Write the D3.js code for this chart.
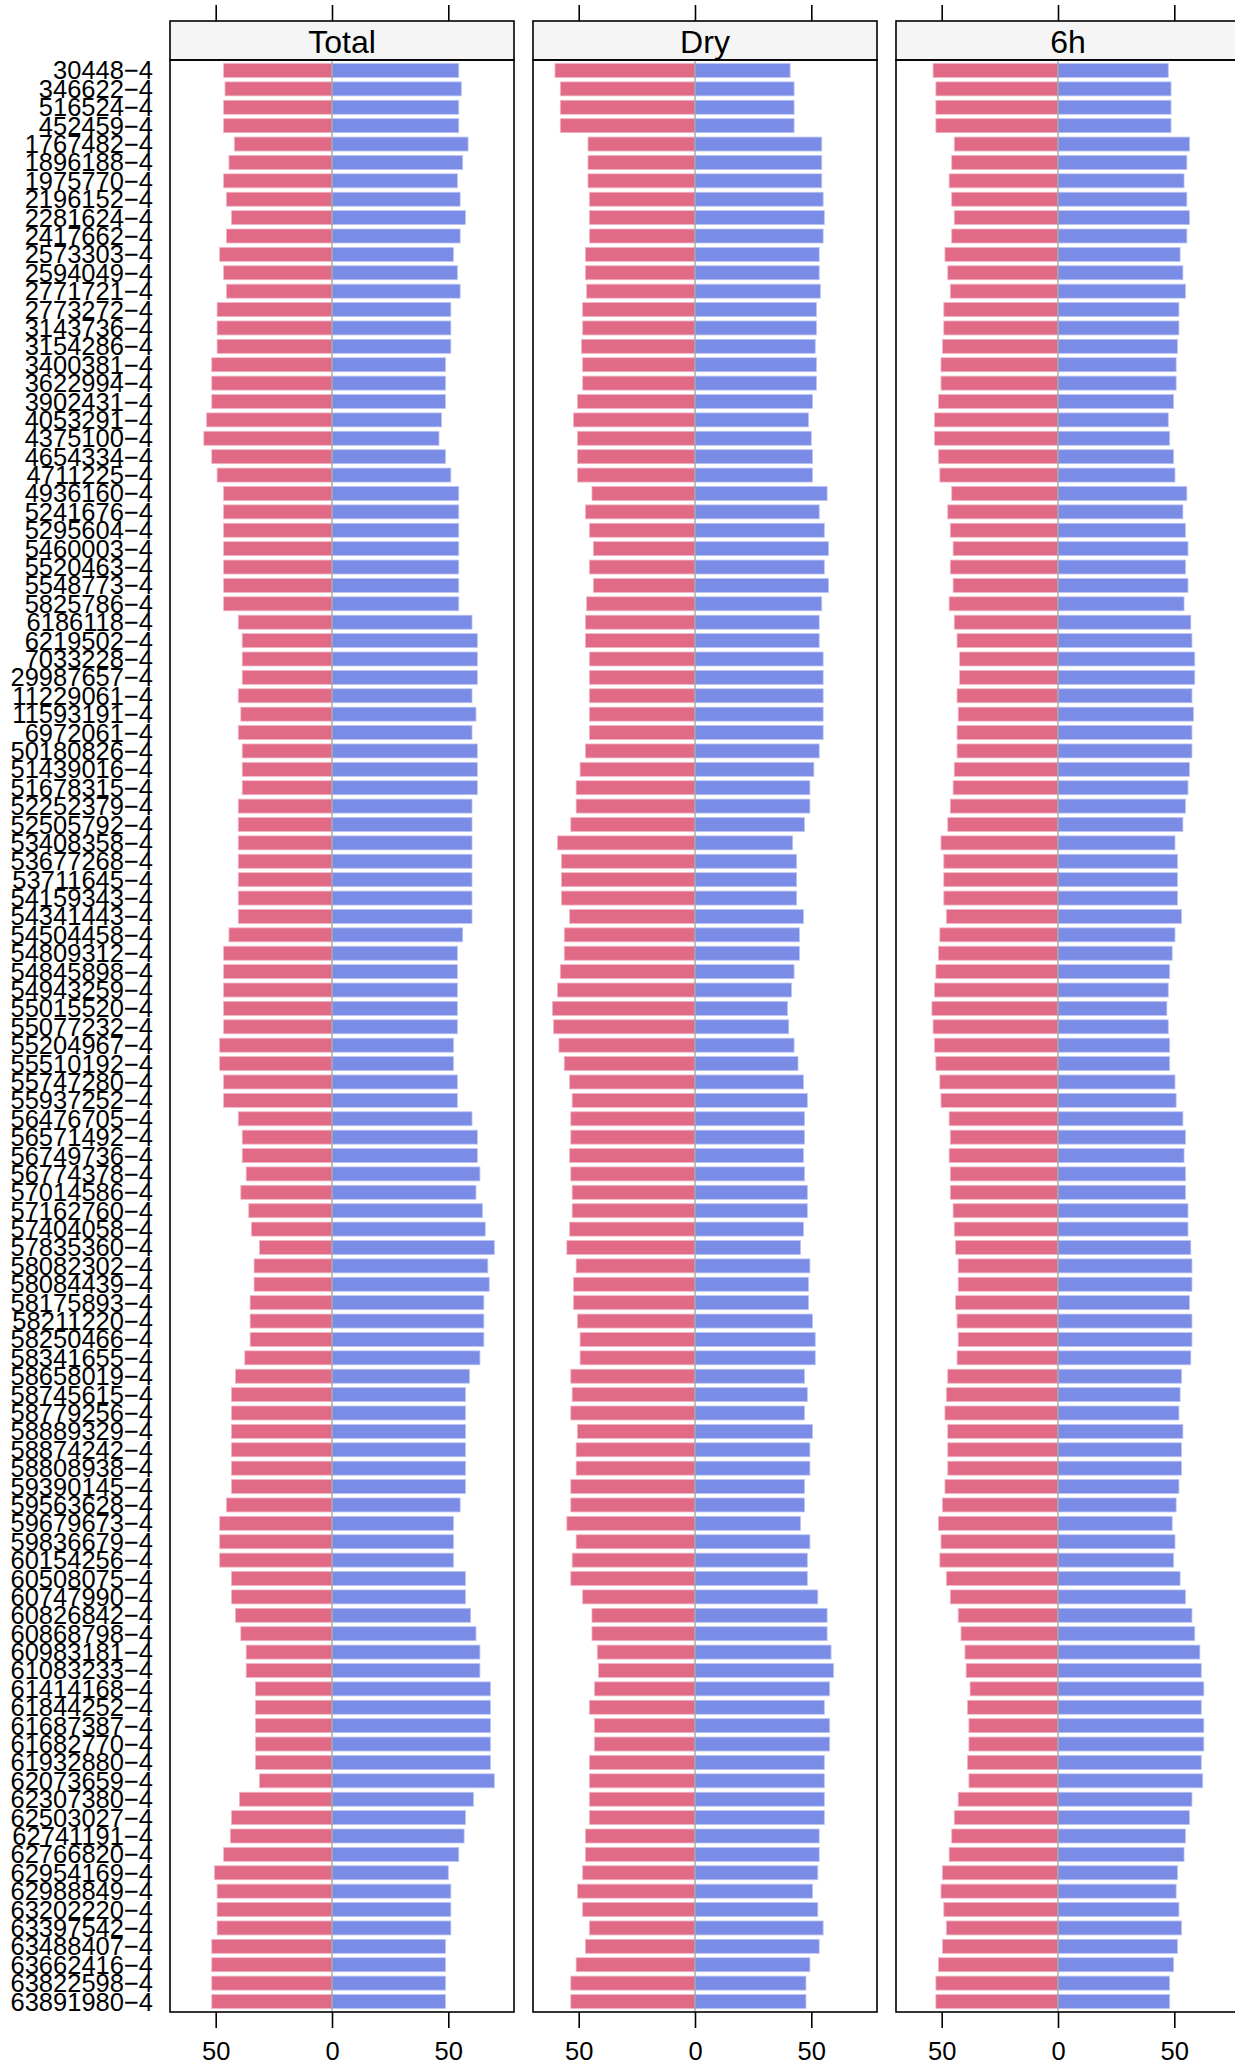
<!DOCTYPE html>
<html>
<head>
<meta charset="utf-8">
<script src="https://cdn.jsdelivr.net/npm/d3@7"></script>
<style>
  html, body { margin: 0; padding: 0; background: #fff; }
  svg { display: block; font-family: "Liberation Sans", Arial, Helvetica, sans-serif; }
</style>
</head>
<body>
<svg id="chart" width="1235" height="2072"></svg>
<script>
const categories = ["30448-4","346622-4","516524-4","452459-4","1767482-4","1896188-4","1975770-4","2196152-4","2281624-4","2417662-4",
"2573303-4","2594049-4","2771721-4","2773272-4","3143736-4","3154286-4","3400381-4","3622994-4","3902431-4","4053291-4",
"4375100-4","4654334-4","4711225-4","4936160-4","5241676-4","5295604-4","5460003-4","5520463-4","5548773-4","5825786-4",
"6186118-4","6219502-4","7033228-4","29987657-4","11229061-4","11593191-4","6972061-4","50180826-4","51439016-4","51678315-4",
"52252379-4","52505792-4","53408358-4","53677268-4","53711645-4","54159343-4","54341443-4","54504458-4","54809312-4","54845898-4",
"54943259-4","55015520-4","55077232-4","55204967-4","55510192-4","55747280-4","55937252-4","56476705-4","56571492-4","56749736-4",
"56774378-4","57014586-4","57162760-4","57404058-4","57835360-4","58082302-4","58084439-4","58175893-4","58211220-4","58250466-4",
"58341655-4","58658019-4","58745615-4","58779256-4","58889329-4","58874242-4","58808938-4","59390145-4","59563628-4","59679673-4",
"59836679-4","60154256-4","60508075-4","60747990-4","60826842-4","60868798-4","60983181-4","61083233-4","61414168-4","61844252-4",
"61687387-4","61682770-4","61932880-4","62073659-4","62307380-4","62503027-4","62741191-4","62766820-4","62954169-4","62988849-4",
"63202220-4","63397542-4","63488407-4","63662416-4","63822598-4","63891980-4"];

const panels = ["Total", "Dry", "6h"];

const totalLeft = [46.6,46.0,46.6,46.6,42.0,44.3,46.6,45.4,43.2,45.4,
48.3,46.6,45.4,49.4,49.4,49.4,51.7,51.7,51.7,53.9,
55.1,51.7,49.4,46.6,46.6,46.6,46.6,46.6,46.6,46.6,
40.3,38.6,38.6,38.6,40.3,39.2,40.3,38.6,38.6,38.6,
40.3,40.3,40.3,40.3,40.3,40.3,40.3,44.3,46.6,46.6,
46.6,46.6,46.6,48.3,48.3,46.6,46.6,40.3,38.6,38.6,
36.9,39.2,35.8,34.6,31.2,33.5,33.5,35.2,35.2,35.2,
37.5,41.5,43.2,43.2,43.2,43.2,43.2,43.2,45.4,48.3,
48.3,48.3,43.2,43.2,41.5,39.2,36.9,36.9,32.9,32.9,
32.9,32.9,32.9,31.2,39.8,43.2,43.7,46.6,50.5,49.4,
49.4,49.4,51.7,51.7,51.7,51.7];
const totalRight = [54.5,55.6,54.5,54.5,58.5,56.2,53.9,55.1,57.4,55.1,
52.2,53.9,55.1,51.1,51.1,51.1,48.8,48.8,48.8,47.1,
46.0,48.8,51.1,54.5,54.5,54.5,54.5,54.5,54.5,54.5,
60.2,62.5,62.5,62.5,60.2,61.9,60.2,62.5,62.5,62.5,
60.2,60.2,60.2,60.2,60.2,60.2,60.2,56.2,53.9,53.9,
53.9,53.9,53.9,52.2,52.2,53.9,53.9,60.2,62.5,62.5,
63.6,61.9,64.7,65.9,69.8,67.0,67.6,65.3,65.3,65.3,
63.6,59.1,57.4,57.4,57.4,57.4,57.4,57.4,55.1,52.2,
52.2,52.2,57.4,57.4,59.6,61.9,63.6,63.6,68.1,68.1,
68.1,68.1,68.1,69.8,60.8,57.4,56.8,54.5,50.0,51.1,
51.1,51.1,48.8,48.8,48.8,48.8];
const dryLeft = [60.2,57.9,57.9,57.9,46.0,46.0,46.0,45.4,45.4,45.4,
47.1,47.1,46.6,48.3,48.3,48.8,48.3,48.3,50.5,52.2,
50.5,50.5,50.5,44.3,47.1,45.4,43.7,45.4,43.7,46.6,
47.1,47.1,45.4,45.4,45.4,45.4,45.4,47.1,49.4,51.1,
51.1,53.4,59.1,57.4,57.4,57.4,53.9,56.2,56.2,57.9,
59.1,61.3,60.8,58.5,56.2,53.9,52.8,53.4,53.4,53.9,
53.4,52.8,52.8,53.9,55.1,51.1,52.2,52.2,50.5,49.4,
49.4,53.4,52.8,53.4,50.5,51.1,51.1,53.4,53.4,55.1,
51.1,52.8,53.4,48.3,44.3,44.3,42.0,41.5,43.2,45.4,
43.2,43.2,45.4,45.4,45.4,45.4,47.1,47.1,48.3,50.5,
48.3,45.4,47.1,51.1,53.4,53.4];
const dryRight = [40.9,42.6,42.6,42.6,54.5,54.5,54.5,55.1,55.6,55.1,
53.4,53.4,53.9,52.2,52.2,51.7,52.2,52.2,50.5,48.8,
50.0,50.5,50.5,56.8,53.4,55.6,57.4,55.6,57.4,54.5,
53.4,53.4,55.1,55.1,55.1,55.1,55.1,53.4,51.1,49.4,
49.4,47.1,42.0,43.7,43.7,43.7,46.6,44.9,44.9,42.6,
41.5,39.8,40.3,42.6,44.3,46.6,48.3,47.1,47.1,46.6,
47.1,48.3,48.3,46.6,45.4,49.4,48.8,48.8,50.5,51.7,
51.7,47.1,48.3,47.1,50.5,49.4,49.4,47.1,47.1,45.4,
49.4,48.3,48.3,52.8,56.8,56.8,58.5,59.6,57.9,55.6,
57.9,57.9,55.6,55.6,55.6,55.6,53.4,53.4,52.8,50.5,
52.8,55.1,53.4,49.4,47.7,47.7];
const h6Left = [53.7,52.5,52.5,52.5,44.6,45.7,46.8,45.7,44.6,45.7,
48.6,47.4,46.3,49.1,49.1,49.7,50.3,50.3,51.4,53.1,
53.1,51.4,50.8,45.7,47.4,46.3,45.1,46.3,45.1,46.8,
44.6,43.4,42.3,42.3,43.4,42.9,43.4,43.4,44.6,45.1,
46.3,47.4,50.3,49.1,49.1,49.1,48.0,50.8,51.4,52.5,
53.1,54.2,53.7,53.1,52.5,50.8,50.3,46.8,46.3,46.8,
46.3,46.3,45.1,44.6,44.0,42.9,42.9,44.0,43.4,42.9,
43.4,47.4,48.0,48.6,47.4,47.4,47.4,48.6,49.7,51.4,
50.3,50.8,48.0,46.3,42.9,41.7,40.0,39.5,37.8,38.9,
38.3,38.3,38.9,38.3,42.9,44.6,45.7,46.8,49.7,50.3,
49.1,48.0,49.7,51.4,52.5,52.5];
const h6Right = [47.4,48.6,48.6,48.6,56.5,55.4,54.2,55.4,56.5,55.4,
52.5,53.7,54.8,52.0,52.0,51.4,50.8,50.8,49.7,47.4,
48.0,49.7,50.3,55.4,53.7,54.8,55.9,54.8,55.9,54.2,
57.1,57.6,58.8,58.8,57.6,58.2,57.6,57.6,56.5,55.9,
54.8,53.7,50.3,51.4,51.4,51.4,53.1,50.3,49.1,48.0,
47.4,46.8,47.4,48.0,48.0,50.3,50.8,53.7,54.8,54.2,
54.8,54.8,55.9,55.9,57.1,57.6,57.6,56.5,57.6,57.6,
57.1,53.1,52.5,52.0,53.7,53.1,53.1,52.0,50.8,49.1,
50.3,49.7,52.5,54.8,57.6,58.8,61.0,61.6,62.7,61.6,
62.7,62.7,61.6,62.2,57.6,56.5,54.8,54.2,51.4,50.8,
52.0,53.1,51.4,49.7,48.0,48.0];

const tickValues = [-50, 0, 50];

const leftSeries = [totalLeft, dryLeft, h6Left];
const rightSeries = [totalRight, dryRight, h6Right];

const colLeft = "#E16A86";
const colRight = "#7A8CE6";

const svg = d3.select("#chart");

const paneW = 344, paneStep = 363, pane0 = 170;
const stripTop = 21, paneTop = 60, paneBottom = 2012;

const y = d3.scaleBand()
  .domain(categories)
  .range([paneTop, paneBottom])
  .paddingInner(0.24)
  .paddingOuter(0.19);

const x = d3.scaleLinear().domain([-69.65, 78.25]).range([0, paneW]);

// y labels
svg.append("g")
  .selectAll("text")
  .data(categories)
  .join("text")
  .attr("x", 153)
  .attr("y", d => y(d) + y.bandwidth() / 2)
  .attr("text-anchor", "end")
  .attr("dominant-baseline", "central")
  .attr("font-size", "25.5px")
  .attr("fill", "#000")
  .text(d => d.replace("-", "\u2212"));

panels.forEach((name, i) => {
  const gx = pane0 + i * paneStep;
  const g = svg.append("g").attr("transform", `translate(${gx},0)`);

  // strip
  g.append("rect")
    .attr("x", 0).attr("y", stripTop)
    .attr("width", paneW).attr("height", paneTop - stripTop)
    .attr("fill", "#f5f5f5").attr("stroke", "#000").attr("stroke-width", 1.6);
  g.append("text")
    .attr("x", paneW / 2).attr("y", (stripTop + paneTop) / 2 + 1)
    .attr("text-anchor", "middle").attr("dominant-baseline", "central")
    .attr("font-size", "32px").attr("fill", "#000")
    .text(name);

  // bars
  const rows = categories.map((c, k) => ({ c, l: leftSeries[i][k], r: rightSeries[i][k] }));
  g.append("g").selectAll("rect")
    .data(rows).join("rect")
    .attr("x", d => x(-d.l))
    .attr("y", d => y(d.c))
    .attr("width", d => x(0) - x(-d.l))
    .attr("height", y.bandwidth())
    .attr("fill", colLeft)
    .attr("stroke", "#F2B5C3").attr("stroke-width", 0.8);
  g.append("g").selectAll("rect")
    .data(rows).join("rect")
    .attr("x", x(0))
    .attr("y", d => y(d.c))
    .attr("width", d => x(d.r) - x(0))
    .attr("height", y.bandwidth())
    .attr("fill", colRight)
    .attr("stroke", "#BCC5F2").attr("stroke-width", 0.8);

  // zero line
  g.append("line")
    .attr("x1", x(0)).attr("x2", x(0))
    .attr("y1", paneTop).attr("y2", paneBottom)
    .attr("stroke", "#a0a0a0").attr("stroke-width", 1.3);

  // panel border
  g.append("rect")
    .attr("x", 0).attr("y", paneTop)
    .attr("width", paneW).attr("height", paneBottom - paneTop)
    .attr("fill", "none").attr("stroke", "#000").attr("stroke-width", 1.6);

  // top axis (ticks only)
  const top = g.append("g").attr("transform", `translate(0,${stripTop})`)
    .call(d3.axisTop(x).tickValues(tickValues).tickSize(16).tickFormat(""));
  top.select(".domain").remove();
  top.selectAll(".tick line").attr("stroke", "#000").attr("stroke-width", 1.6);

  // bottom axis
  const bot = g.append("g").attr("transform", `translate(0,${paneBottom})`)
    .call(d3.axisBottom(x).tickValues(tickValues).tickSize(16).tickPadding(14)
      .tickFormat(d => String(Math.abs(d))));
  bot.select(".domain").remove();
  bot.selectAll(".tick line").attr("stroke", "#000").attr("stroke-width", 1.6);
  bot.selectAll(".tick text")
    .attr("font-size", "25.5px").attr("fill", "#000")
    .attr("font-family", "'Liberation Sans', Arial, sans-serif");
});
</script>
</body>
</html>
